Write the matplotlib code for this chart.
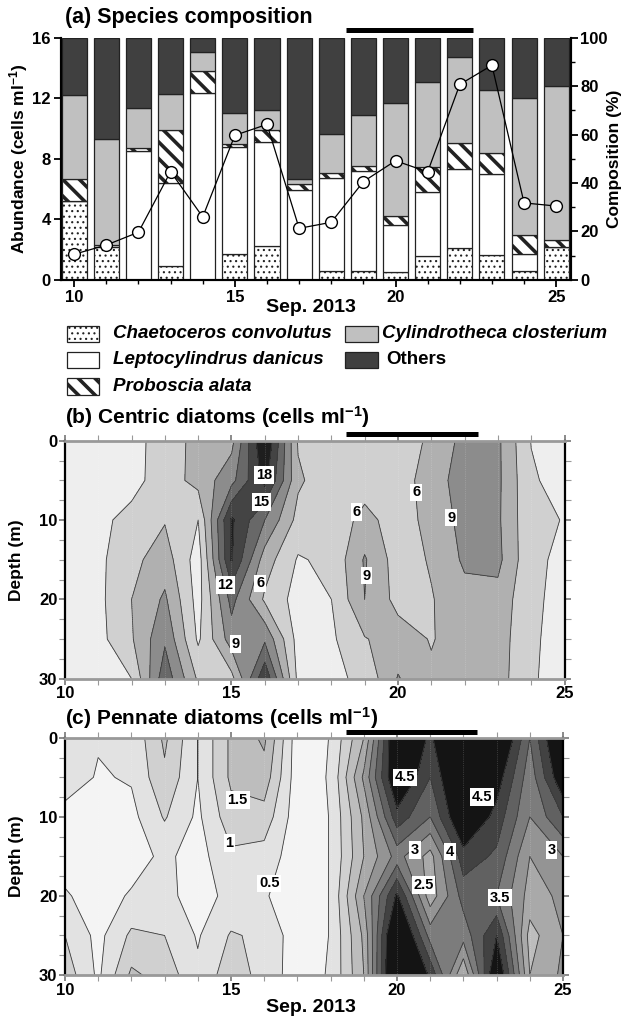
import numpy as np
import matplotlib
matplotlib.use("Agg")
import matplotlib.pyplot as plt
import matplotlib.transforms as mtransforms
from matplotlib.patches import Rectangle
from matplotlib.ticker import MultipleLocator

plt.rcParams['font.family'] = ['Liberation Sans', 'DejaVu Sans']
plt.rcParams['font.weight'] = 'bold'
plt.rcParams['axes.labelweight'] = 'bold'
plt.rcParams['mathtext.fontset'] = 'custom'
plt.rcParams['mathtext.rm'] = 'Liberation Sans:bold'
plt.rcParams['mathtext.it'] = 'Liberation Sans:bold:italic'
plt.rcParams['mathtext.bf'] = 'Liberation Sans:bold'
plt.rcParams['axes.linewidth'] = 1.5

# ---- data -------------------------------------------------------------
days = np.arange(10, 26)

# (a) stacked abundance (cells ml-1), one value per day
chaetoceros = [5.22, 2.20, 0.00, 0.90, 0.00, 1.72, 2.24, 0.00, 0.62, 0.62, 0.53, 1.58, 2.13, 1.63, 0.57, 2.16]
leptocylindrus = [0.00, 0.10, 8.52, 5.50, 12.37, 7.06, 6.85, 5.96, 6.09, 6.58, 3.10, 4.21, 5.18, 5.37, 1.12, 0.00]
proboscia = [1.43, 0.00, 0.17, 3.48, 1.45, 0.22, 0.79, 0.36, 0.33, 0.30, 0.57, 1.65, 1.71, 1.41, 1.26, 0.46]
cylindrotheca = [5.54, 6.99, 2.69, 2.42, 1.23, 2.03, 1.37, 0.35, 2.58, 3.42, 7.49, 5.63, 5.72, 4.13, 9.09, 10.21]
others = [3.81, 6.71, 4.62, 3.70, 0.95, 4.97, 4.75, 9.33, 6.38, 5.08, 4.31, 2.93, 1.26, 3.46, 3.96, 3.17]
composition = [10.6, 14.4, 19.7, 44.7, 26.0, 59.7, 64.2, 21.3, 23.8, 40.6, 49.2, 44.6, 80.7, 88.6, 31.8, 30.5]

species = ['Chaetoceros convolutus', 'Leptocylindrus danicus', 'Proboscia alata',
           'Cylindrotheca closterium', 'Others']

# event period marked by the black bars
event = [18.45, 22.4]

# (b), (c) depth profiles, one row per depth, one column per day
depths = [0, 5, 10, 15, 20, 25, 30]
centric = [
    [1.5, 1.8, 2.0, 4.3, 7.0, 8.0, 21.5, 5.7, 3.0, 4.3, 4.5, 6.5, 10.0, 9.6, 2.9, 1.5],
    [1.5, 2.0, 2.0, 4.5, 7.0, 11.0, 19.0, 6.5, 4.0, 4.5, 4.5, 7.5, 10.5, 9.6, 3.4, 1.8],
    [1.5, 2.3, 3.9, 5.8, 3.0, 18.5, 12.0, 5.0, 4.0, 7.0, 4.5, 7.0, 10.0, 9.5, 3.6, 2.9],
    [1.5, 2.3, 5.2, 7.5, 1.5, 18.3, 7.5, 2.7, 3.7, 9.3, 4.5, 6.3, 9.5, 9.8, 3.6, 2.4],
    [1.5, 2.2, 6.0, 9.5, 1.8, 13.0, 5.5, 1.8, 3.0, 9.0, 5.0, 5.8, 8.0, 8.0, 3.5, 2.2],
    [1.5, 2.0, 5.7, 11.5, 2.5, 10.5, 11.5, 1.8, 2.5, 5.8, 7.5, 5.8, 7.5, 7.5, 3.4, 2.0],
    [1.5, 1.8, 3.0, 14.0, 5.5, 5.0, 17.5, 2.2, 2.2, 3.8, 9.2, 6.5, 7.0, 7.3, 3.3, 1.9],
]
pennate = [
    [0.8, 0.55, 0.6, 1.6, 0.5, 1.6, 2.1, 0.2, 0.52, 2.0, 5.3, 4.4, 5.6, 5.5, 3.5, 5.5],
    [0.8, 0.45, 0.55, 1.4, 0.5, 1.6, 1.8, 0.2, 0.55, 2.6, 5.2, 4.0, 5.5, 4.8, 3.2, 5.0],
    [0.3, 0.3, 0.35, 1.05, 0.4, 1.3, 1.3, 0.2, 0.52, 2.1, 4.3, 3.5, 5.2, 4.3, 3.0, 4.0],
    [0.3, 0.3, 0.3, 0.6, 0.3, 0.9, 0.8, 0.2, 0.52, 2.0, 3.2, 2.3, 4.3, 3.9, 2.5, 3.0],
    [0.55, 0.3, 0.55, 0.6, 0.35, 0.6, 0.55, 0.2, 0.52, 2.5, 4.6, 2.2, 3.7, 3.5, 2.3, 2.6],
    [1.0, 0.35, 1.1, 1.0, 0.45, 1.05, 0.9, 0.2, 0.52, 2.1, 5.6, 3.3, 3.2, 4.5, 1.8, 2.5],
    [1.3, 0.4, 1.6, 1.3, 0.6, 1.3, 0.8, 0.25, 0.55, 2.0, 5.8, 4.4, 2.0, 5.2, 2.0, 2.6],
]

centric_levels = [0, 3, 6, 9, 12, 15, 18, 40]
pennate_levels = [0, 0.5, 1, 1.5, 2, 2.5, 3, 3.5, 4, 4.5, 10]

# contour labels: (day, depth, text)
centric_labels = [(15.98, 4.3, '18'), (15.9, 7.7, '15'), (14.82, 18.2, '12'), (15.86, 18.0, '6'),
                  (15.12, 25.6, '9'), (18.75, 9.0, '6'), (19.05, 17.0, '9'), (20.55, 6.5, '6'),
                  (21.6, 9.7, '9')]
pennate_labels = [(15.2, 7.9, '1.5'), (14.95, 13.3, '1'), (16.15, 18.4, '0.5'), (20.25, 5.0, '4.5'),
                  (22.55, 7.5, '4.5'), (20.55, 14.2, '3'), (21.6, 14.4, '4'), (24.65, 14.2, '3'),
                  (20.8, 18.6, '2.5'), (23.1, 20.2, '3.5')]

# ---- figure -----------------------------------------------------------
W, H = 623.0, 1018.0
fig = plt.figure(figsize=(6.23, 10.18), dpi=100)
ax_a = fig.add_axes([0.0974, 0.7250, 0.8186, 0.2380])
ax_b = fig.add_axes([0.1043, 0.3333, 0.8018, 0.2338])
ax_c = fig.add_axes([0.1043, 0.0422, 0.7994, 0.2331])

# (a) stacked bars
seg_styles = [
    dict(facecolor='white', hatch='...'),
    dict(facecolor='white'),
    dict(facecolor='white', hatch='\\\\'),
    dict(facecolor='#c0c0c0'),
    dict(facecolor='#404040'),
]
hatch_lw = [0.8, 1.0, 2.6, 1.0, 1.0]

bottom = np.zeros(len(days))
for vals, st, hlw in zip([chaetoceros, leptocylindrus, proboscia, cylindrotheca, others],
                         seg_styles, hatch_lw):
    with plt.rc_context({'hatch.linewidth': hlw}):
        bars = ax_a.bar(days, vals, width=0.78, bottom=bottom, edgecolor='#222222',
                        linewidth=0.9, **st)
    for b in bars:
        if hasattr(b, 'set_hatch_linewidth'):
            b.set_hatch_linewidth(hlw)
    bottom += np.array(vals)

ax_a.set_xlim(9.58, 25.45)
ax_a.set_ylim(0, 16)
ax_a.set_xticks([10, 15, 20, 25])
ax_a.xaxis.set_minor_locator(MultipleLocator(1))
ax_a.set_yticks([0, 4, 8, 12, 16])
ax_a.tick_params(direction='out', length=5, width=1.3, labelsize=12, pad=2)
ax_a.tick_params(which='minor', direction='out', length=3, width=1)
ax_a.spines['top'].set_visible(False)
ax_a.set_ylabel(r'Abundance (cells ml$^{-1}$)', fontsize=12.5)
ax_a.yaxis.set_label_coords(-0.060, 0.5)

ax_a2 = ax_a.twinx()
ax_a2.plot(days, composition, '-o', color='black', lw=0.9, mfc='white', mec='black',
           ms=8.5, mew=1.0, zorder=5)
ax_a2.set_ylim(0, 100)
ax_a2.set_yticks(range(0, 101, 20))
ax_a2.yaxis.set_minor_locator(MultipleLocator(10))
ax_a2.tick_params(direction='out', length=5, width=1.3, labelsize=12, pad=2)
ax_a2.tick_params(which='minor', direction='out', length=3, width=1)
ax_a2.spines['top'].set_visible(False)
ax_a2.set_ylabel('Composition (%)', fontsize=12.5)
ax_a2.yaxis.set_label_coords(1.071, 0.5)

fig.text(65 / W, 1 - 18 / H, '(a) Species composition', fontsize=15.5,
         ha='left', va='center')
fig.text(311 / W, 1 - 307 / H, 'Sep. 2013', fontsize=14, ha='center', va='center')

# legend drawn by hand: two columns of swatches and labels
legend_rows = [333.7, 359.7, 386.5, 333.7, 359.7]
legend_cols = [(66.7, 113.0), (66.7, 113.0), (66.7, 113.0), (345.0, 382.0), (345.0, 386.0)]
for i, (name, st) in enumerate(zip(species, seg_styles)):
    yc = legend_rows[i]
    px, tx = legend_cols[i]
    with plt.rc_context({'hatch.linewidth': hatch_lw[i]}):
        r = Rectangle((px / W, 1 - (yc + 8) / H), 32.6 / W, 16 / H, transform=fig.transFigure,
                      edgecolor='#222222', linewidth=0.9, **st)
    if hasattr(r, 'set_hatch_linewidth'):
        r.set_hatch_linewidth(hatch_lw[i])
    fig.add_artist(r)
    fig.text(tx / W, 1 - yc / H, name, fontsize=13.5, ha='left', va='center',
             style='normal' if name == 'Others' else 'italic')

# event bars
for ax, yb in [(ax_a, 1.032), (ax_b, 1.028), (ax_c, 1.025)]:
    tr = mtransforms.blended_transform_factory(ax.transData, ax.transAxes)
    ax.plot(event, [yb, yb], color='black', lw=3.6, solid_capstyle='butt',
            transform=tr, clip_on=False)


def depth_panel(ax, values, levels, colors, labels, title, title_gap):
    X, Y = np.meshgrid(days, depths)
    Z = np.array(values)
    ax.contourf(X, Y, Z, levels=levels, colors=colors)
    ax.contour(X, Y, Z, levels=levels[1:-1], colors='#3a3a3a', linewidths=0.6)
    for d in days[1:-1]:
        ax.axvline(d, color='white', lw=0.5, alpha=0.3, ls=':')
    for x, y, s in labels:
        ax.text(x, y, s, ha='center', va='center', fontsize=10.5,
                bbox=dict(boxstyle='square,pad=0.12', fc='white', ec='none'))
    ax.set_xlim(10, 25)
    ax.set_ylim(30, 0)
    ax.set_xticks([10, 15, 20, 25])
    ax.xaxis.set_minor_locator(MultipleLocator(1))
    ax.set_yticks([0, 10, 20, 30])
    ax.yaxis.set_minor_locator(MultipleLocator(2.5))
    ax.tick_params(direction='out', length=4, width=1.2, labelsize=12, pad=1.5,
                   top=True, right=True, color='#777777')
    ax.tick_params(which='minor', direction='out', length=4, width=0.8,
                   top=True, right=True, color='#999999')
    for s in ['left', 'right']:
        ax.spines[s].set_color('black')
        ax.spines[s].set_linewidth(1.6)
    for s in ['top', 'bottom']:
        ax.spines[s].set_color('#999999')
        ax.spines[s].set_linewidth(2.0)
    ax.set_ylabel('Depth (m)', fontsize=12.5)
    ax.yaxis.set_label_coords(-0.082, 0.5)
    pos = ax.get_position()
    ax.figure.text(65 / W, pos.y1 + title_gap / H, title, fontsize=15, ha='left', va='center')


depth_panel(ax_b, centric, centric_levels,
            ['#eeeeee', '#d0d0d0', '#b0b0b0', '#8c8c8c', '#686868', '#444444', '#1e1e1e'],
            centric_labels, r'(b) Centric diatoms (cells ml$^{-1}$)', 24)
depth_panel(ax_c, pennate, pennate_levels,
            ['#f4f4f4', '#e2e2e2', '#d0d0d0', '#bdbdbd', '#a9a9a9', '#949494', '#7c7c7c',
             '#616161', '#424242', '#141414'],
            pennate_labels, r'(c) Pennate diatoms (cells ml$^{-1}$)', 20)

fig.text(311 / W, 1 - 1007 / H, 'Sep. 2013', fontsize=14, ha='center', va='center')

fig.savefig('out.png', dpi=100)
